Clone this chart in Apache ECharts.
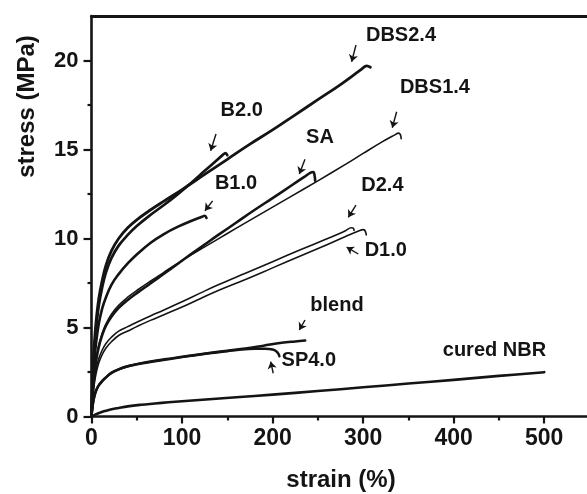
<!DOCTYPE html>
<html>
<head>
<meta charset="utf-8">
<title>stress-strain</title>
<script src="https://cdn.jsdelivr.net/npm/echarts@6/dist/echarts.min.js"></script>
<style>
  html, body { margin: 0; padding: 0; background: #fff; }
  #chart { width: 587px; height: 494px; }
</style>
</head>
<body>
<div id="chart"></div>
<script>
// Axis ticks
const strainTicks = [0, 100, 200, 300, 400, 500];
const strainMinorTicks = [50, 150, 250, 350, 450];
const stressTicks = [0, 5, 10, 15, 20];
const stressMinorTicks = [2.5, 7.5, 12.5, 17.5];

// Stress-strain curves: [strain %, stress MPa]
const curveDBS24 = [[0,0],[1,1.8],[2,3.1],[3,4.0],[5,5.3],[8,6.6],[12,7.7],[16,8.5],[22,9.3],[30,10.0],[40,10.6],[50,11.05],[65,11.6],[80,12.1],[100,12.75],[125,13.6],[150,14.45],[175,15.3],[200,16.1],[225,16.95],[250,17.8],[275,18.65],[298,19.5],[304,19.7],[308,19.62]];
const curveB20 = [[0,0],[1,1.5],[2,2.7],[3,3.6],[5,4.9],[8,6.2],[12,7.3],[16,8.1],[22,8.9],[30,9.6],[40,10.2],[50,10.7],[65,11.32],[80,11.88],[95,12.48],[110,13.12],[125,13.8],[138,14.38],[145,14.7],[148,14.8],[150,14.68]];
const curveB10 = [[0,0],[1,1.2],[2,2.2],[3,3.0],[5,4.1],[8,5.2],[12,6.1],[16,6.7],[22,7.4],[30,8.0],[40,8.6],[50,9.1],[65,9.75],[80,10.25],[95,10.65],[110,10.98],[122,11.22],[125,11.28],[127,11.15]];
const curveSA = [[0,0],[1,1.0],[2,1.7],[3,2.3],[5,3.1],[8,3.9],[12,4.6],[16,5.1],[22,5.6],[30,6.1],[40,6.55],[52,7.0],[65,7.47],[80,8.02],[95,8.57],[110,9.12],[125,9.66],[140,10.2],[160,10.9],[180,11.6],[200,12.27],[220,12.95],[235,13.46],[242,13.7],[245,13.74],[246.5,13.5],[247,13.25]];
const curveDBS14 = [[0,0],[1,1.1],[2,1.8],[3,2.4],[5,3.2],[8,4.0],[12,4.7],[16,5.2],[22,5.75],[30,6.25],[40,6.7],[52,7.15],[65,7.6],[80,8.1],[95,8.6],[110,9.08],[125,9.53],[140,9.98],[160,10.58],[180,11.17],[200,11.76],[220,12.35],[250,13.24],[280,14.15],[300,14.78],[320,15.4],[335,15.82],[339,15.92],[341,15.85],[342,15.6]];
const curveD24 = [[0,0],[1,0.9],[2,1.5],[3,2.0],[5,2.65],[8,3.25],[12,3.75],[16,4.1],[22,4.45],[30,4.8],[40,5.05],[50,5.3],[65,5.65],[80,5.98],[100,6.45],[120,6.93],[140,7.4],[170,8.05],[200,8.7],[230,9.35],[260,9.98],[280,10.42],[287,10.6],[289,10.58],[290,10.45]];
const curveD10 = [[0,0],[1,0.8],[2,1.35],[3,1.8],[5,2.4],[8,3.0],[12,3.5],[16,3.85],[22,4.2],[30,4.55],[40,4.8],[50,5.05],[65,5.4],[80,5.72],[100,6.15],[120,6.62],[140,7.08],[170,7.7],[200,8.35],[230,9.0],[260,9.65],[280,10.1],[295,10.42],[300,10.5],[302,10.45],[303.5,10.2]];
const curveBlend = [[0,0],[1,0.5],[2,0.85],[3,1.1],[5,1.45],[8,1.75],[12,2.0],[16,2.2],[22,2.45],[30,2.65],[40,2.82],[55,3.0],[70,3.13],[90,3.28],[110,3.43],[130,3.57],[150,3.7],[170,3.82],[190,3.98],[210,4.14],[225,4.22],[236,4.27]];
const curveSP40 = [[0,0],[1,0.5],[2,0.85],[3,1.1],[5,1.45],[8,1.75],[12,2.0],[16,2.2],[22,2.45],[30,2.65],[40,2.82],[55,2.98],[70,3.11],[90,3.26],[110,3.41],[130,3.55],[150,3.67],[165,3.76],[180,3.8],[192,3.8],[200,3.76],[204,3.67],[206.5,3.52],[207.5,3.38]];
const curveNBR = [[0,0],[3,0.08],[6,0.15],[10,0.23],[15,0.31],[20,0.38],[30,0.48],[40,0.57],[55,0.66],[70,0.73],[85,0.8],[100,0.86],[130,0.97],[160,1.08],[200,1.23],[250,1.43],[300,1.64],[350,1.85],[400,2.06],[450,2.28],[500,2.49]];

// Curve labels and the arrows pointing at each curve (data coordinates)
const labelNames = ['DBS2.4', 'DBS1.4', 'SA', 'D2.4', 'D1.0', 'B2.0', 'B1.0', 'blend', 'SP4.0', 'cured NBR'];
const labelPositions = [[341.8,21.38],[379.3,18.48],[252.3,15.7],[321.3,12.97],[325,9.35],[165.9,17.17],[159.6,13.08],[271.1,6.26],[240,3.12],[445,3.72]];
const arrowLines = [
  [[292.1,20.87],[287.3,19.93]],
  [[337,17.12],[332.2,16.22]],
  [[235.8,14.45],[229.5,13.62]],
  [[292.1,11.88],[283.6,11.19]],
  [[294.6,9.13],[281.8,9.51]],
  [[137.5,15.87],[131.6,14.93]],
  [[133.8,12.11],[125.3,11.56]],
  [[235.8,5.42],[229.5,4.86]],
  [[200.7,2.43],[197.9,3.08]]
];

const INK = '#141414';
const FONT = '"Liberation Sans", Arial, Helvetica, sans-serif';

function curve(name, data, width) {
  return {
    type: 'line', name: name, data: data,
    xAxisIndex: 0, yAxisIndex: 0,
    showSymbol: false, symbol: 'none',
    smooth: 0.4,
    lineStyle: { color: INK, width: width, cap: 'round', join: 'round' },
    silent: true, z: 3
  };
}

const chart = echarts.init(document.getElementById('chart'), null, { renderer: 'canvas' });

chart.setOption({
  animation: false,
  backgroundColor: '#ffffff',
  textStyle: { fontFamily: FONT },
  grid: { left: 91.5, top: 16, width: 498, height: 400.5, outerBoundsMode: 'none', containLabel: false },
  xAxis: [
    {
      type: 'value', min: 0, max: 550, position: 'bottom',
      axisLine: { show: true, onZero: false, lineStyle: { color: INK, width: 2.6 } },
      axisTick: { show: true, inside: false, length: 7, customValues: strainTicks, lineStyle: { color: INK, width: 2.2 } },
      axisLabel: { show: true, customValues: strainTicks, margin: 11, color: INK, fontSize: 23, fontWeight: 'bold', fontFamily: FONT },
      splitLine: { show: false }
    },
    {
      type: 'value', min: 0, max: 550, position: 'bottom',
      axisLine: { show: false },
      axisTick: { show: true, inside: false, length: 4, customValues: strainMinorTicks, lineStyle: { color: INK, width: 2.2 } },
      axisLabel: { show: false },
      splitLine: { show: false }
    },
    {
      type: 'value', min: 0, max: 550, position: 'top',
      axisLine: { show: true, onZero: false, lineStyle: { color: INK, width: 3 } },
      axisTick: { show: false },
      axisLabel: { show: false },
      splitLine: { show: false }
    }
  ],
  yAxis: [
    {
      type: 'value', min: 0, max: 22.5, position: 'left',
      axisLine: { show: true, onZero: false, lineStyle: { color: INK, width: 2.6 } },
      axisTick: { show: true, inside: false, length: 8, customValues: stressTicks, lineStyle: { color: INK, width: 2.2 } },
      axisLabel: { show: true, customValues: stressTicks, margin: 13, color: INK, fontSize: 22, fontWeight: 'bold', fontFamily: FONT },
      splitLine: { show: false }
    },
    {
      type: 'value', min: 0, max: 22.5, position: 'left',
      axisLine: { show: false },
      axisTick: { show: true, inside: false, length: 4, customValues: stressMinorTicks, lineStyle: { color: INK, width: 2.2 } },
      axisLabel: { show: false },
      splitLine: { show: false }
    }
  ],
  series: [
    curve('cured NBR', curveNBR, 2.6),
    curve('SP4.0', curveSP40, 2.5),
    curve('blend', curveBlend, 2.5),
    curve('D1.0', curveD10, 1.6),
    curve('D2.4', curveD24, 1.6),
    curve('DBS1.4', curveDBS14, 1.6),
    curve('SA', curveSA, 2.6),
    curve('B1.0', curveB10, 2.6),
    curve('B2.0', curveB20, 2.7),
    curve('DBS2.4', curveDBS24, 2.8),
    {
      type: 'lines', coordinateSystem: 'cartesian2d',
      xAxisIndex: 0, yAxisIndex: 0,
      symbol: ['none', 'arrow'], symbolSize: [0, 7],
      lineStyle: { color: INK, width: 1.4, opacity: 1 },
      data: arrowLines.map(function (c) { return { coords: c }; }),
      silent: true, z: 4
    },
    {
      type: 'scatter',
      xAxisIndex: 0, yAxisIndex: 0,
      symbol: 'circle', symbolSize: 0,
      itemStyle: { color: INK },
      label: {
        show: true, position: 'inside',
        formatter: function (p) { return p.name; },
        color: INK, opacity: 1, textBorderWidth: 0, textBorderColor: 'transparent',
        fontSize: 20, fontWeight: 'bold', fontFamily: FONT
      },
      data: labelNames.map(function (n, i) { return { name: n, value: labelPositions[i] }; }),
      silent: true, z: 5
    }
  ],
  graphic: [
    {
      type: 'text', x: 27, y: 106.5, rotation: Math.PI / 2,
      style: { text: 'stress (MPa)', fill: INK, font: 'bold 24px ' + FONT, align: 'center', verticalAlign: 'middle' }
    },
    {
      type: 'text', x: 341, y: 480,
      style: { text: 'strain (%)', fill: INK, font: 'bold 24px ' + FONT, align: 'center', verticalAlign: 'middle' }
    }
  ]
});
</script>
</body>
</html>
